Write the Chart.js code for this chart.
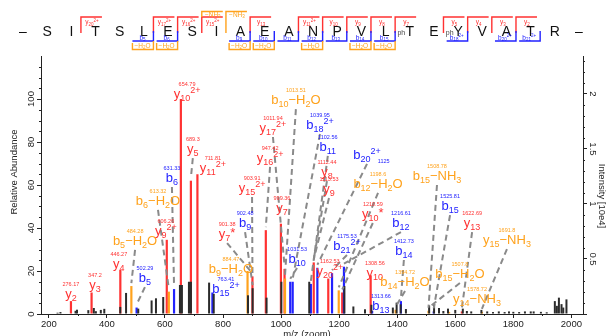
<!DOCTYPE html>
<html>
<head>
<meta charset="utf-8">
<script src="https://cdn.jsdelivr.net/npm/chart.js@4.4.1/dist/chart.umd.min.js"></script>
<style>html,body{margin:0;padding:0;background:#fff}canvas{display:block}</style>
</head>
<body>
<canvas id="spectrum" width="608" height="336"></canvas>
<script>
// peptide and the fragments found for it
const sequence = ['S','I','T','S','L','E','S','I','A','E','A','N','P','V','L','T','E','Y','V','A','T','R'];
const phospho = [15, 17];
const yFrags = ['y20^2+','y17^2+','y16^2+','y15^2+','y13','y11^2+','y10','y9','y8','y7','y5','y4','y3','y2'];
const yNH3 = [15, 14];
const bFrags = ['b5','b6','b9','b10','b11','b12','b13','b14','b15','b18^2+','b20^2+','b21^2+'];
const bH2O = [5, 6, 9, 10, 12, 14, 15];

// peaks (m/z, relative abundance)
const blackMz = [230, 240, 292, 297, 336, 355, 362, 379, 391, 446,
  466, 508, 554, 569, 594, 752, 768, 886, 902, 950,
  1001, 1097, 1218, 1249, 1289, 1311, 1385, 1398, 1412, 1430,
  1510, 1527, 1544, 1559, 1575, 1600, 1626, 1640, 1655, 1690,
  1710, 1730, 1750, 1770, 1785, 1800, 1820, 1840, 1860, 1870,
  1895, 1915, 1943, 1950, 1957, 1966, 1972, 1983];
const blackInt = [0.6, 0.9, 1.5, 2, 1.8, 2.8, 1.3, 1.9, 2.4, 3.3,
  9.8, 2.5, 6.3, 7.3, 7.9, 14.6, 9.4, 8.7, 12, 7.6,
  15, 15, 13, 3.5, 2.2, 4.3, 3, 5.3, 4.5, 2.3,
  4, 4.6, 2.8, 1.4, 2.5, 1.9, 2.5, 1.4, 1.2, 1.9,
  1.2, 0.9, 1.2, 0.9, 1.2, 1, 0.9, 1.2, 1.2, 1.2,
  1, 0.8, 6, 3.8, 7.6, 4.6, 3, 6.8];
const wideMz = [655, 686];
const wideInt = [13.5, 15];
const redMz = [276.17, 347.2, 446.27, 606.26, 654.79, 689.3, 711.81, 901.38, 947.42, 999.36, 1011.94, 1112.44, 1162.53, 1210.59, 1308.56, 1622.69];
const redInt = [6, 10, 20.5, 34.5, 100, 62, 65, 17.5, 39, 42, 21, 24, 16.5, 10, 18, 1.2];
const blueMz = [502.29, 631.33, 763.41, 1031.53, 1039.95, 1102.56, 1125, 1175.53, 1216.61, 1313.66, 1412.73, 1525.81];
const blueInt = [3, 11.6, 10, 15, 15, 14, 21.5, 19, 22, 1.5, 6, 1.2];
const orangeMz = [484.28, 613.32, 884.47, 1013.51, 1198.6, 1394.72, 1507.8, 1578.72, 1691.8];
const orangeInt = [13, 10.4, 20, 16.5, 11, 2, 1.5, 1, 1];

// annotated ions
const ionLabels = ['y2','y3','y4','b5-H2O','b5','y9^2+','b6-H2O','b6','y10^2+','y5',
  'y11^2+','b15^2+','b9-H2O','y7*','b9','y15^2+','y16^2+','y7','y17^2+','b10-H2O',
  'b10','b18^2+','b11','y8','y9','b20^2+','y20^2+','b21^2+','b12-H2O','y10*',
  'b12','y10','b13','b14-H2O','b14','b15-H2O','b15-NH3','b15','y14-NH3','y13','y15-NH3'];
const ionMz = [276.17, 347.2, 446.27, 484.28, 502.29, 606.26, 613.32, 631.33, 654.79, 689.3,
  711.81, 763.41, 884.47, 901.38, 902.48, 903.91, 947.42, 999.36, 1011.94, 1013.51,
  1031.53, 1039.95, 1102.56, 1112.44, 1113.53, 1125, 1162.53, 1175.53, 1198.6, 1210.59,
  1216.61, 1308.56, 1313.66, 1394.72, 1412.73, 1507.8, 1508.78, 1525.81, 1578.72, 1622.69, 1691.8];

// where each ion label sits (m/z, abundance of the label centre)
const labelMz = [276, 359, 441, 497, 531, 603, 576, 624, 676, 696,
  765, 810, 827, 814, 876, 900, 962, 1003, 972, 1051,
  1055, 1134, 1161, 1158, 1165, 1296, 1168, 1227, 1334, 1316,
  1413, 1323, 1344, 1427, 1423, 1616, 1537, 1582, 1675, 1658, 1778];
const labelAb = [9.3, 13.5, 23.3, 34, 16.7, 38.6, 52.6, 63.3, 102.3, 76.7,
  67.9, 11.6, 20.9, 37.2, 42.3, 58.6, 72.6, 49.3, 86.5, 99.5,
  25.6, 87.9, 77.7, 66, 58.1, 74, 20, 31.6, 60.5, 46.5,
  42.3, 19.1, 3.7, 14.9, 29.3, 18.6, 64.2, 50.2, 7, 42.3, 34.4];
const massBeside = ['b20^2+'];

const xTicks = [200, 400, 600, 800, 1000, 1200, 1400, 1600, 1800, 2000];
const yTicks = [0, 20, 40, 60, 80, 100];
const y2Ticks = [0, 0.5, 1, 1.5, 2];

const FONT = '"Liberation Sans", Arial, Helvetica, sans-serif';
const C = { red: '#ff3232', blue: '#2222ff', orange: '#ffa21c', black: '#2b2b2b', gray: '#8a8a8a', axis: '#222' };

function ionColor(name) {
  if (name.includes('-')) return C.orange;
  return name[0] === 'y' ? C.red : C.blue;
}

// split an ion name into text runs: letter, subscript number, loss, charge
function ionSegs(name, big, small) {
  const m = name.match(/^([a-z]?)(\d*)(?:-(H2O|NH3))?(\^.+|\*)?$/);
  const sub = small * 0.35;
  const s = [[m[1], big, 0], [m[2], small, sub]];
  if (m[3] === 'H2O') s.push(['\u2212H', big, 0], ['2', small, sub], ['O', big, 0]);
  if (m[3] === 'NH3') s.push(['\u2212NH', big, 0], ['3', small, sub]);
  if (m[4] === '*') s.push(['*', big, -big * 0.05]);
  else if (m[4]) s.push([m[4].slice(1), small, -big * 0.38]);
  return s;
}

function drawIon(ctx, name, x, base, big, small, color) {
  const segs = ionSegs(name, big, small);
  let w = 0;
  segs.forEach(g => { ctx.font = g[1] + 'px ' + FONT; g.push(ctx.measureText(g[0]).width); w += g[3]; });
  let cx = x - w / 2;
  ctx.fillStyle = color;
  ctx.textAlign = 'left';
  ctx.textBaseline = 'alphabetic';
  segs.forEach(g => { ctx.font = g[1] + 'px ' + FONT; ctx.fillText(g[0], cx, base + g[2]); cx += g[3]; });
  return w;
}

function findPeak(mz, color) {
  const sets = { [C.red]: [redMz, redInt], [C.blue]: [blueMz, blueInt], [C.orange]: [orangeMz, orangeInt] };
  let best = null;
  const own = sets[color];
  own[0].forEach((m, i) => { if (Math.abs(m - mz) < 3 && (!best || Math.abs(m - mz) < Math.abs(best.mz - mz))) best = { mz: m, v: own[1][i] }; });
  if (best) return best;
  [[redMz, redInt], [blueMz, blueInt], [orangeMz, orangeInt], [blackMz, blackInt]].forEach(([ms, vs]) => {
    ms.forEach((m, i) => { if (!best || Math.abs(m - mz) < Math.abs(best.mz - mz)) best = { mz: m, v: vs[i] }; });
  });
  return best;
}

function drawSequence(ctx) {
  const sx = i => 23 + i * 24.17;
  const gx = k => (sx(k) + sx(k + 1)) / 2 - 2.5;
  ctx.save();
  ctx.textAlign = 'center';
  ctx.textBaseline = 'alphabetic';
  ctx.font = '14px ' + FONT;
  ctx.fillStyle = '#111';
  ['\u2013', ...sequence, '\u2013'].forEach((ch, i) => ctx.fillText(ch, sx(i), 36));
  ctx.font = '7px ' + FONT;
  ctx.fillStyle = '#444';
  ctx.textAlign = 'right';
  phospho.forEach(i => ctx.fillText('ph', sx(i + 1) - 4.5, 35));

  ctx.lineWidth = 1.4;
  const yCuts = yFrags.map(f => 22 - parseInt(f.slice(1)));
  yFrags.forEach((f, j) => {
    const g = gx(yCuts[j]);
    ctx.strokeStyle = C.red;
    ctx.beginPath(); ctx.moveTo(g, 33); ctx.lineTo(g, 17); ctx.lineTo(g + 21, 17); ctx.stroke();
    drawIon(ctx, f, g + 11, 24, 6.5, 4.5, C.red);
  });
  yNH3.forEach(n => {
    const k = 22 - n, g = gx(k);
    ctx.strokeStyle = C.orange;
    ctx.beginPath(); ctx.moveTo(g, yCuts.includes(k) ? 17 : 33); ctx.lineTo(g, 11.5); ctx.lineTo(g + 21, 11.5); ctx.stroke();
    drawIon(ctx, '-NH3', g + 11, 16.5, 6.5, 4.5, C.orange);
  });
  bFrags.forEach(f => {
    const g = gx(parseInt(f.slice(1)));
    ctx.strokeStyle = C.blue;
    ctx.beginPath(); ctx.moveTo(g, 31); ctx.lineTo(g, 41); ctx.lineTo(g - 21, 41); ctx.stroke();
    drawIon(ctx, f, g - 11, 39.5, 6.5, 4.5, C.blue);
  });
  bH2O.forEach(k => {
    const g = gx(k);
    ctx.strokeStyle = C.orange;
    ctx.beginPath(); ctx.moveTo(g - 21, 43); ctx.lineTo(g - 21, 49.5); ctx.lineTo(g, 49.5); ctx.lineTo(g, 41); ctx.stroke();
    drawIon(ctx, '-H2O', g - 11, 47.8, 6.5, 4.5, C.orange);
  });
  ctx.restore();
}

const annotations = {
  id: 'annotations',
  afterDatasetsDraw(chart) {
    const { ctx, scales: { x, y } } = chart;
    ctx.save();
    // dashed leader lines from labels to their peaks
    ctx.strokeStyle = C.gray;
    ctx.lineWidth = 2;
    ctx.setLineDash([6, 4]);
    ionLabels.forEach((name, i) => {
      const pk = findPeak(ionMz[i], ionColor(name));
      const lx = x.getPixelForValue(labelMz[i]), ly = y.getPixelForValue(labelAb[i]) + 9;
      const px = x.getPixelForValue(pk.mz), py = y.getPixelForValue(pk.v) - 3;
      if (py - ly < 8) return;
      ctx.beginPath(); ctx.moveTo(lx, ly); ctx.lineTo(px, py); ctx.stroke();
    });
    ctx.setLineDash([]);
    // labels with their masses
    ionLabels.forEach((name, i) => {
      const col = ionColor(name);
      const lx = x.getPixelForValue(labelMz[i]), ly = y.getPixelForValue(labelAb[i]);
      const w = drawIon(ctx, name, lx, ly + 4, 13, 9, col);
      ctx.font = '5.5px ' + FONT;
      ctx.fillStyle = col;
      if (massBeside.includes(name)) {
        ctx.textAlign = 'left';
        ctx.fillText(String(ionMz[i]), lx + w / 2 - 3, ly + 8);
      } else {
        ctx.textAlign = 'center';
        ctx.fillText(String(ionMz[i]), lx, ly - 8);
      }
    });
    ctx.restore();
  },
  afterDraw(chart) {
    const { ctx, chartArea: a, scales: { x, y, y2 } } = chart;
    ctx.save();
    ctx.strokeStyle = C.axis;
    ctx.lineWidth = 1;
    ctx.beginPath();
    for (let v = 300; v < 2040; v += 200) { const p = Math.round(x.getPixelForValue(v)) + 0.5; ctx.moveTo(p, a.bottom); ctx.lineTo(p, a.bottom + 2); }
    for (let v = 5; v < 120; v += 5) { if (v % 20) { const p = Math.round(y.getPixelForValue(v)) + 0.5; ctx.moveTo(a.left - 2, p); ctx.lineTo(a.left, p); } }
    for (let v = 0.1; v < 2.34; v += 0.1) { if (Math.abs(v * 2 - Math.round(v * 2)) > 0.01) { const p = Math.round(y2.getPixelForValue(v)) + 0.5; ctx.moveTo(a.right, p); ctx.lineTo(a.right + 2, p); } }
    ctx.stroke();

    ctx.fillStyle = '#222';
    ctx.font = '9.5px ' + FONT;
    ctx.textAlign = 'center';
    ctx.textBaseline = 'middle';
    xTicks.forEach(v => ctx.fillText(String(v), x.getPixelForValue(v), a.bottom + 10));
    yTicks.forEach(v => {
      ctx.save(); ctx.translate(a.left - 10, y.getPixelForValue(v)); ctx.rotate(-Math.PI / 2); ctx.fillText(String(v), 0, 0); ctx.restore();
    });
    y2Ticks.filter(v => v > 0).forEach(v => {
      ctx.save(); ctx.translate(a.right + 10, y2.getPixelForValue(v)); ctx.rotate(Math.PI / 2); ctx.fillText(String(v), 0, 0); ctx.restore();
    });
    ctx.fillText('m/z (zoom)', 307, a.bottom + 20);
    ctx.save(); ctx.translate(14, 172); ctx.rotate(-Math.PI / 2); ctx.fillText('Relative Abundance', 0, 0); ctx.restore();
    ctx.save(); ctx.translate(602, 196); ctx.rotate(Math.PI / 2); ctx.fillText('Intensity [10e4]', 0, 0); ctx.restore();
    ctx.restore();
    drawSequence(ctx);
  }
};

const bars = (mz, vals, color, w) => ({
  data: mz.map((m, i) => ({ x: m, y: vals[i] })),
  backgroundColor: color,
  barThickness: w,
  maxBarThickness: w,
  inflateAmount: 0,
  stack: 'peaks',
  borderWidth: 0
});

const axisGrid = { drawOnChartArea: false, tickLength: 4, color: C.axis, lineWidth: 1, offset: false };
const fixTicks = list => s => { s.ticks = list.map(v => ({ value: v })); };

new Chart(document.getElementById('spectrum').getContext('2d'), {
  type: 'bar',
  data: {
    datasets: [
      bars(blackMz, blackInt, C.black, 2),
      bars(wideMz, wideInt, C.black, 4),
      bars(orangeMz, orangeInt, C.orange, 2.2),
      bars(blueMz, blueInt, C.blue, 2.2),
      bars(redMz, redInt, C.red, 2.2)
    ]
  },
  options: {
    responsive: false,
    animation: false,
    devicePixelRatio: 1,
    layout: { padding: { top: 56, left: 41, right: 25, bottom: 22 } },
    plugins: { legend: { display: false }, tooltip: { enabled: false } },
    scales: {
      x: {
        type: 'linear', min: 173, max: 2040, bounds: 'data', stacked: true, offset: false,
        afterBuildTicks: fixTicks(xTicks),
        afterFit: s => { s.height = 0; },
        ticks: { display: false },
        grid: axisGrid,
        border: { color: C.axis }
      },
      y: {
        position: 'left', min: 0, max: 120, bounds: 'data', stacked: false,
        afterBuildTicks: fixTicks(yTicks),
        afterFit: s => { s.width = 0; },
        ticks: { display: false },
        grid: axisGrid,
        border: { color: C.axis }
      },
      y2: {
        type: 'linear', position: 'right', min: 0, max: 2.345, bounds: 'data',
        afterBuildTicks: fixTicks(y2Ticks),
        afterFit: s => { s.width = 0; },
        ticks: { display: false },
        grid: axisGrid,
        border: { color: C.axis }
      }
    }
  },
  plugins: [annotations]
});
</script>
</body>
</html>
